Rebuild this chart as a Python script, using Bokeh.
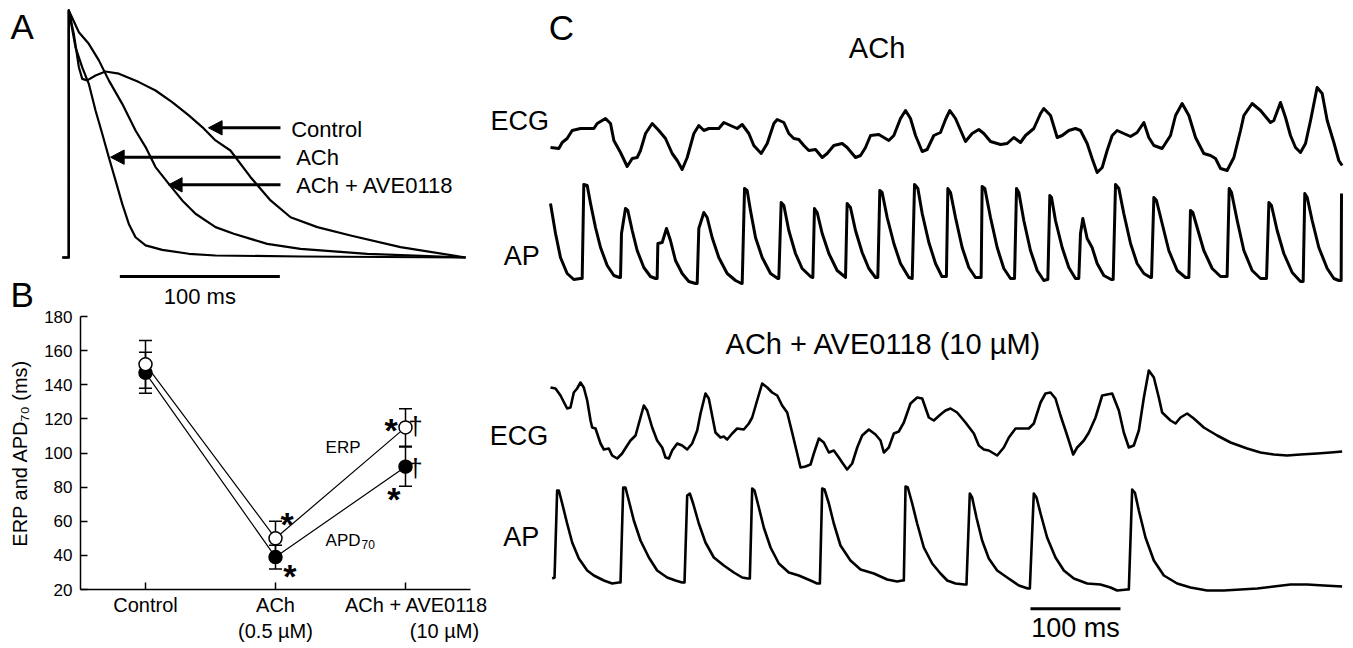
from bokeh.plotting import figure
from bokeh.models import Range1d, FixedTicker, Whisker, TeeHead, ColumnDataSource
from bokeh.core.properties import value
from bokeh.embed import file_html
from bokeh.resources import INLINE

FONT = "Liberation Sans"

# ---------------- Panel A: action potentials (time in ms, % of AP amplitude) ----------------
A_CONTROL = [(-4, 0), (0, 0), (0, 100), (3.1, 90.6), (6.3, 77.0), (8.4, 72.3), (11.5, 71.7), (16.7, 73.7),
             (22.9, 75.3), (31.3, 74.4), (43.8, 71.0), (54.2, 67.6), (64.6, 62.9), (75.0, 57.5), (83.4, 52.8),
             (91.7, 47.4), (101.0, 43.3), (113.6, 32.5), (126.1, 23.1), (138.6, 16.3), (155.3, 12.3),
             (176.1, 8.9), (207.3, 4.2), (248.0, 0)]
A_ACH = [(-4, 0), (0, 0), (0, 100), (4.2, 85.1), (8.4, 77.0), (12.5, 70.3), (16.7, 59.5), (20.9, 50.1),
         (25.0, 40.6), (29.2, 31.2), (33.4, 21.7), (37.5, 13.6), (41.7, 8.2), (48.0, 4.9), (58.4, 3.1),
         (75.0, 1.5), (91.7, 0.8), (145.0, 0.4), (248.0, 0)]
A_ACH_AVE = [(-4, 0), (0, 0), (0, 100), (6.3, 91.2), (12.5, 86.5), (18.8, 79.8), (25.0, 71.7), (33.4, 62.2),
             (41.7, 51.4), (48.0, 44.7), (54.2, 36.6), (62.5, 29.8), (70.9, 23.1), (79.2, 17.7), (91.7, 12.3),
             (103.1, 9.6), (124.0, 5.5), (144.8, 3.5), (186.5, 1.5), (248.0, 0)]
A_NAMES = ["Control", "ACh", "ACh + AVE0118"]
SCALE_MS = 100

# ---------------- Panel B: ERP and APD70 ----------------
B_POS = [1, 2, 3]
B_GROUPS = ["Control", "ACh\n(0.5 µM)",
            "\u00a0\u00a0\u00a0\u00a0ACh + AVE0118\n" + "\u00a0" * 14 + "(10 µM)"]
B_ERP = [152, 50, 115]
B_ERP_ERR = [14, 10, 11]
B_APD70 = [147, 39, 92]
B_APD70_ERR = [12, 7, 11.5]
B_YTICKS = [20, 40, 60, 80, 100, 120, 140, 160, 180]

# ---------------- Panel C: ECG and AP recordings (time ms, amplitude a.u.) ----------------
C_ACH_ECG = [(1.1, 28), (10.4, 27), (14.1, 33), (19.6, 37), (25.2, 45), (34.4, 47), (49.3, 47), (53.0, 52),
             (62.2, 57), (67.8, 52), (71.5, 35), (78.9, 23), (86.3, 9), (91.9, 17), (97.4, 18), (101.1, 25),
             (106.7, 42), (114.1, 52), (121.5, 45), (128.9, 37), (136.3, 22), (141.9, 15), (147.4, 6),
             (153.0, 18), (160.4, 42), (165.9, 50), (171.5, 45), (177.0, 47), (188.1, 47), (193.7, 53),
             (201.1, 50), (208.5, 47), (214.1, 51), (221.5, 42), (227.0, 30), (235.2, 22), (241.9, 32),
             (249.3, 52), (253.0, 56), (260.4, 53), (265.9, 42), (271.5, 37), (277.0, 36), (282.6, 30),
             (288.1, 25), (295.6, 26), (303.0, 18), (308.5, 22), (315.9, 30), (325.2, 32), (330.7, 28),
             (340.0, 18), (345.6, 20), (351.1, 28), (356.7, 40), (365.9, 41), (377.0, 35), (382.6, 40),
             (390.0, 57), (395.6, 65), (401.1, 57), (406.7, 40), (414.1, 24), (419.6, 26), (427.0, 40),
             (434.4, 43), (440.0, 56), (444.8, 65), (451.1, 57), (462.2, 34), (469.6, 42), (477.0, 46),
             (482.6, 42), (490.0, 34), (501.1, 31), (508.5, 32), (515.9, 38), (523.3, 33), (528.9, 40),
             (538.1, 47), (545.6, 62), (549.2, 67), (556.7, 60), (564.1, 38), (569.6, 40), (577.0, 45),
             (584.4, 47), (590.0, 45), (597.4, 32), (602.9, 17), (608.5, 3), (614.1, 8), (619.6, 25),
             (625.2, 40), (630.7, 45), (638.1, 42), (645.6, 39), (652.9, 43), (660.4, 53), (665.9, 38),
             (671.5, 30), (680.7, 27), (690.0, 40), (695.6, 60), (702.9, 72), (710.4, 60), (717.8, 38),
             (727.0, 22), (734.4, 20), (740.0, 17), (745.6, 7), (752.9, 5), (760.4, 18), (767.8, 45),
             (771.5, 60), (780.7, 72), (790.0, 65), (801.1, 53), (804.8, 55), (812.2, 73), (817.8, 58),
             (823.3, 40), (828.9, 28), (834.4, 23), (840.0, 32), (845.6, 55), (852.9, 88), (858.5, 82),
             (864.1, 55), (871.5, 33), (877.0, 15), (880.7, 10)]

C_ACH_AP = [(1.1, 82), (6.7, 52), (12.2, 28), (19.6, 12), (27.0, 6), (34.4, 7), (36.3, 7), (38.1, 101),
            (41.9, 100), (45.6, 82), (51.1, 58), (56.7, 38), (64.1, 20), (71.5, 10), (77.8, 8), (78.9, 8),
            (80.0, 52), (84.4, 77), (87.0, 75), (91.9, 55), (97.4, 35), (104.8, 18), (112.2, 9), (117.8, 7),
            (119.6, 7), (120.4, 42), (125.2, 43), (130.0, 57), (134.4, 45), (140.0, 25), (147.4, 12),
            (154.8, 4), (162.2, 2), (164.1, 2), (165.9, 57), (171.5, 73), (175.2, 68), (180.7, 48),
            (188.1, 28), (197.4, 12), (206.7, 5), (213.3, 2), (214.1, 2), (216.7, 97), (219.6, 95),
            (223.3, 75), (228.9, 48), (236.3, 28), (245.6, 12), (253.7, 7), (254.8, 7), (257.4, 83),
            (260.4, 80), (265.9, 55), (273.3, 32), (280.7, 17), (290.0, 9), (292.6, 8), (294.4, 77),
            (297.4, 73), (303.0, 52), (310.4, 32), (319.6, 15), (327.8, 9), (328.9, 8), (330.7, 82),
            (334.4, 78), (340.0, 55), (347.4, 33), (354.8, 17), (362.2, 8), (364.8, 8), (367.0, 95),
            (369.6, 93), (375.2, 68), (382.6, 42), (390.0, 22), (399.3, 8), (403.0, 7), (405.6, 101),
            (409.3, 97), (414.1, 72), (421.5, 43), (428.9, 22), (436.0, 9), (441.0, 9), (442.6, 97),
            (445.6, 93), (451.1, 68), (458.5, 38), (465.9, 18), (473.3, 8), (478.1, 8), (479.6, 8),
            (480.7, 99), (483.7, 97), (490.0, 68), (497.4, 38), (504.8, 17), (512.2, 7), (515.2, 7),
            (516.7, 7), (518.9, 97), (521.5, 93), (527.0, 65), (534.4, 35), (541.9, 15), (549.2, 5),
            (552.9, 6), (553.7, 6), (555.9, 90), (557.8, 88), (562.2, 65), (569.6, 38), (577.0, 18),
            (584.4, 7), (588.1, 7), (590.0, 52), (592.6, 67), (597.4, 47), (602.9, 38), (608.5, 22),
            (615.9, 10), (624.1, 6), (626.3, 6), (628.9, 101), (632.6, 97), (638.1, 72), (645.6, 42),
            (652.9, 22), (660.4, 12), (667.8, 8), (668.9, 8), (671.5, 88), (674.4, 85), (680.7, 62),
            (688.1, 35), (697.4, 15), (706.7, 8), (710.4, 8), (712.2, 75), (714.8, 73), (719.6, 58),
            (727.0, 35), (736.3, 17), (745.6, 9), (751.1, 9), (752.9, 9), (755.2, 97), (757.8, 93),
            (764.1, 65), (771.5, 35), (780.7, 15), (790.0, 7), (795.5, 7), (796.7, 7), (799.3, 83),
            (802.2, 80), (808.5, 55), (815.9, 32), (825.2, 13), (834.4, 4), (837.4, 4), (839.2, 92),
            (841.9, 88), (847.4, 65), (854.8, 38), (864.1, 17), (871.5, 7), (877.0, 5), (879.6, 5),
            (880.0, 92)]

C_AVE_ECG = [(1.1, 83), (6.7, 82), (12.2, 75), (19.6, 62), (23.3, 63), (27.0, 78), (30.7, 82), (34.4, 88),
             (38.1, 83), (41.9, 70), (45.6, 50), (47.4, 43), (51.1, 42), (56.7, 27), (60.4, 21), (65.9, 22),
             (69.6, 15), (75.2, 12), (80.7, 17), (86.3, 25), (90.0, 30), (95.6, 35), (101.1, 53),
             (104.8, 65), (108.5, 60), (114.1, 43), (119.6, 30), (125.2, 23), (128.9, 13), (132.6, 12),
             (136.3, 20), (141.9, 27), (147.4, 25), (153.0, 21), (158.5, 27), (164.1, 40), (167.8, 57),
             (173.3, 77), (177.0, 72), (180.7, 55), (184.4, 38), (190.0, 33), (193.7, 34), (197.4, 31),
             (203.0, 37), (208.5, 42), (215.9, 41), (221.5, 47), (225.2, 53), (230.7, 70), (236.3, 87),
             (241.9, 83), (247.4, 78), (253.0, 75), (258.5, 65), (264.1, 58), (269.6, 38), (275.2, 17),
             (278.9, 3), (284.4, 4), (290.0, 6), (293.7, 17), (299.3, 32), (304.8, 28), (310.4, 18),
             (315.9, 20), (321.5, 13), (325.2, 8), (330.7, 1), (336.3, 7), (341.9, 23), (347.4, 35),
             (354.8, 41), (362.2, 36), (367.8, 30), (371.5, 18), (377.0, 23), (382.6, 37), (388.1, 39),
             (393.7, 48), (401.1, 67), (408.5, 73), (414.1, 72), (421.5, 53), (427.0, 50), (434.4, 56),
             (440.0, 60), (445.6, 62), (452.9, 58), (462.2, 48), (471.5, 37), (477.0, 25), (482.6, 21),
             (488.1, 20), (497.4, 15), (504.8, 23), (510.4, 33), (517.8, 42), (525.2, 42), (532.6, 42),
             (538.1, 47), (545.6, 68), (551.1, 77), (556.7, 78), (562.2, 72), (567.8, 55), (575.2, 35),
             (581.9, 16), (586.3, 23), (593.7, 30), (599.3, 38), (606.7, 53), (614.1, 75), (625.2, 77),
             (632.6, 60), (638.1, 38), (643.7, 23), (649.2, 25), (654.8, 40), (660.4, 73), (665.9, 100),
             (671.5, 93), (677.0, 73), (680.7, 58), (690.0, 50), (695.6, 47), (701.1, 53), (708.5, 57),
             (715.9, 52), (727.0, 43), (741.9, 35), (756.7, 28), (775.2, 22), (790.0, 18), (804.8, 16),
             (819.6, 15), (834.4, 16), (852.9, 17), (867.8, 18), (880.7, 19)]

C_AVE_AP = [(3.0, 14), (5.6, 15), (8.5, 102), (10.4, 102), (14.1, 89), (19.6, 69), (25.2, 50), (32.6, 34),
            (41.9, 22), (49.3, 17), (60.4, 12), (69.6, 9), (77.0, 10), (78.9, 10), (81.9, 105), (84.4, 105),
            (88.1, 92), (93.7, 72), (101.1, 52), (110.4, 35), (119.6, 22), (130.7, 15), (140.0, 12),
            (147.4, 10), (150.0, 10), (153.0, 97), (155.9, 99), (159.6, 89), (165.9, 69), (173.3, 50),
            (182.6, 35), (193.7, 27), (204.8, 20), (214.1, 15), (220.4, 14), (222.6, 14), (225.2, 104),
            (227.8, 102), (232.6, 85), (238.1, 65), (245.6, 45), (254.8, 29), (265.9, 20), (277.0, 17),
            (290.0, 12), (297.4, 9), (300.4, 9), (303.0, 104), (305.6, 103), (310.4, 89), (315.9, 69),
            (323.3, 47), (334.4, 32), (345.6, 23), (360.4, 19), (375.2, 13), (386.3, 11), (391.9, 12),
            (393.7, 12), (395.6, 106), (398.1, 105), (403.0, 89), (408.5, 69), (415.9, 45), (425.2, 29),
            (434.4, 19), (441.9, 12), (451.1, 9), (461.1, 8), (463.3, 8), (467.0, 99), (469.6, 95),
            (474.4, 75), (480.7, 52), (488.1, 34), (497.4, 22), (508.5, 15), (521.5, 7), (531.5, 4),
            (533.7, 4), (538.1, 99), (541.1, 95), (545.6, 79), (552.9, 55), (562.2, 35), (571.5, 22),
            (582.6, 14), (597.4, 9), (612.2, 8), (623.3, 5), (630.7, 2), (641.9, 3), (643.7, 3),
            (647.4, 103), (650.4, 100), (654.8, 82), (662.2, 55), (671.5, 32), (682.6, 17), (697.4, 9),
            (712.2, 5), (730.7, 2), (749.2, 2), (767.8, 3), (786.3, 4), (804.8, 6), (823.3, 8),
            (841.9, 8), (860.4, 7), (880.7, 6)]

C_TITLES = ["ACh", "ACh + AVE0118 (10 µM)"]
C_ROWS = ["ECG", "AP"]

# ---------------- One canvas; the plot frame is panel B ----------------
p = figure(frame_width=390, frame_height=273, x_range=Range1d(0.5, 3.5), y_range=Range1d(20, 180),
           output_backend="svg", toolbar_location=None,
           min_border_left=80, min_border_right=883, min_border_top=316, min_border_bottom=59)
p.outline_line_color = None
p.background_fill_color = "white"
p.border_fill_color = "white"
p.grid.visible = False

# panel A scales (ms, % amplitude) and panel C scales (ms, a.u.) laid over the same canvas
p.extra_x_ranges = {"tA": Range1d(7.3125, 251.0625), "tC": Range1d(-521.11, -87.78)}
p.extra_y_ranges = {"vA": Range1d(-134.41, -23.89), "uC": Range1d(51, 324)}
PX_PER_UNIT = {"vA": 2.47, "uC": 1.0, "default": 1.70625}


def lab(x, y, s, size, xr="default", yr="default", align="left", style="normal"):
    # y is the wanted baseline; the renderer sets text about 0.36 em low, so lift it back
    lift = 0.36 * size / PX_PER_UNIT[yr]
    p.text(x=[x], y=[y + lift], text=[s], x_range_name=xr, y_range_name=yr, level="overlay",
           text_font=value(FONT), text_font_size=f"{size}px", text_align=align, text_baseline="alphabetic",
           text_font_style=style, text_color="black")


def trace_line(xs, ys, xr, yr, lw):
    p.line(list(xs), list(ys), x_range_name=xr, y_range_name=yr, level="overlay",
           line_color="black", line_width=lw, line_join="round")


# ---- Panel A ----
for trace in (A_CONTROL, A_ACH, A_ACH_AVE):
    t, v = zip(*trace)
    trace_line(t, v, "tA", "vA", 2.2)

HEAD_MS, HEAD_HALF = 8.5, 2.9          # arrow-head length (ms) and half height (% amplitude)
for (tip, vv) in [(87.3, 52.5), (26.1, 40.6), (62.3, 29.4)]:
    trace_line([132.3, tip + HEAD_MS * 0.7], [vv, vv], "tA", "vA", 3.0)
    p.patch([tip, tip + HEAD_MS, tip + HEAD_MS], [vv, vv + HEAD_HALF, vv - HEAD_HALF],
            x_range_name="tA", y_range_name="vA", level="overlay",
            fill_color="black", line_color="black", line_width=1)
lab(139.0, 48.5, A_NAMES[0], 22, "tA", "vA")
lab(142.1, 37.2, A_NAMES[1], 22, "tA", "vA")
lab(142.1, 25.8, A_NAMES[2], 22, "tA", "vA")
trace_line([31.9, 31.9 + SCALE_MS], [-7.7, -7.7], "tA", "vA", 3.0)
lab(31.9 + SCALE_MS / 2, -19.0, f"{SCALE_MS} ms", 22, "tA", "vA", align="center")
lab(-36.4, 88.3, "A", 35, "tA", "vA")
lab(-36.4, -20.2, "B", 35, "tA", "vA")

# ---- Panel B ----
for ax in (p.xaxis[0], p.yaxis[0]):
    ax.axis_line_width = 1.5
    ax.major_tick_line_width = 1.5
    ax.major_tick_in = 7
    ax.major_tick_out = 0
    ax.minor_tick_line_color = None
    ax.major_label_text_font = FONT
    ax.major_label_text_color = "black"
    ax.axis_line_color = "black"
    ax.major_tick_line_color = "black"
p.xaxis.ticker = FixedTicker(ticks=B_POS)
p.xaxis.major_label_overrides = {k: s for k, s in zip(B_POS, B_GROUPS)}
p.xaxis.major_label_text_font_size = "20px"
p.xaxis.major_label_standoff = 4
p.yaxis.ticker = FixedTicker(ticks=B_YTICKS)
p.yaxis.major_label_text_font_size = "17px"
p.yaxis.major_label_standoff = 8
p.yaxis.axis_label = "ERP and APD₇₀ (ms)"
p.yaxis.axis_label_text_font = FONT
p.yaxis.axis_label_text_font_size = "20px"
p.yaxis.axis_label_text_font_style = "normal"
p.yaxis.axis_label_text_color = "black"
p.yaxis.axis_label_standoff = 10

src = ColumnDataSource(dict(
    x=B_POS,
    erp_lo=[m - e for m, e in zip(B_ERP, B_ERP_ERR)], erp_hi=[m + e for m, e in zip(B_ERP, B_ERP_ERR)],
    apd_lo=[m - e for m, e in zip(B_APD70, B_APD70_ERR)], apd_hi=[m + e for m, e in zip(B_APD70, B_APD70_ERR)],
))
for lo, hi in (("erp_lo", "erp_hi"), ("apd_lo", "apd_hi")):
    p.add_layout(Whisker(source=src, base="x", lower=lo, upper=hi, line_color="black", line_width=1.5,
                         upper_head=TeeHead(size=13, line_width=1.5, line_color="black"),
                         lower_head=TeeHead(size=13, line_width=1.5, line_color="black")))
p.line(B_POS, B_ERP, line_color="black", line_width=1.2)
p.line(B_POS, B_APD70, line_color="black", line_width=1.2)
p.scatter(B_POS, B_APD70, marker="circle", size=13, fill_color="black", line_color="black", line_width=1.5)
p.scatter(B_POS, B_ERP, marker="circle", size=13, fill_color="white", line_color="black", line_width=1.5)

lab(2.385, 99.9, "ERP", 17)
lab(2.385, 45.4, "APD", 17)
lab(2.662, 43.9, "70", 12)
for (x, y) in [(2.090, 51.2), (2.110, 20.9), (2.890, 106.3), (2.910, 65.8)]:
    lab(x, y, "*", 34, align="center", style="bold")
for (x, y) in [(3.077, 110.2), (3.077, 85.8)]:
    lab(x, y, "†", 26, align="center")

# ---- Panel C ----
for trace, off, lw in [(C_ACH_ECG, 465, 3.0), (C_ACH_AP, 355, 3.0), (C_AVE_ECG, 170, 2.6), (C_AVE_AP, 48, 2.6)]:
    t, a = zip(*trace)
    trace_line(t, [off + v for v in a], "tC", "uC", lw)
lab(-0.8, 600.5, "C", 35, "tC", "uC")
lab(332.6, 581.7, C_TITLES[0], 29, "tC", "uC")
lab(195.6, 286.0, C_TITLES[1], 29, "tC", "uC")
lab(-65.6, 510.0, C_ROWS[0], 27, "tC", "uC")
lab(-50.8, 375.0, C_ROWS[1], 27, "tC", "uC")
lab(-66.3, 195.0, C_ROWS[0], 27, "tC", "uC")
lab(-51.4, 93.3, C_ROWS[1], 27, "tC", "uC")
trace_line([534.4, 534.4 + SCALE_MS], [31.7, 31.7], "tC", "uC", 3.0)
lab(534.4 + SCALE_MS / 2, 2.5, f"{SCALE_MS} ms", 27, "tC", "uC", align="center")

open("out.html", "w").write(file_html(p, INLINE))
